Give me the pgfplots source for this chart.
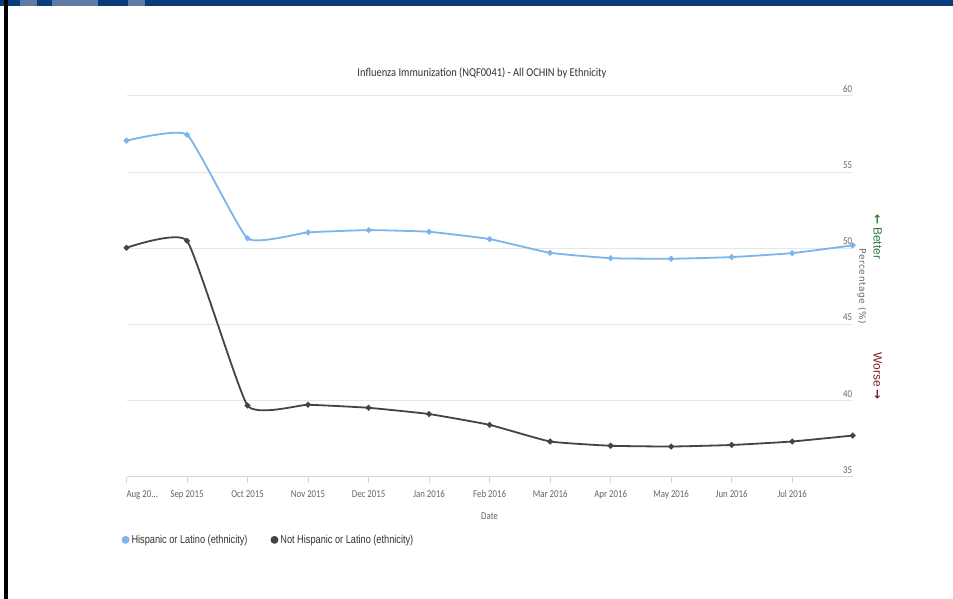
\documentclass[border=0pt]{standalone}
\usepackage{pgfplots}
\pgfplotsset{compat=1.18}
\usepackage{fontspec}
\setmainfont{Carlito}[FakeStretch=0.87]
\newfontfamily\tickfont{Carlito}[FakeStretch=0.84]
\newfontfamily\legfont{Liberation Sans}[FakeStretch=0.8]
\newfontfamily\labfont{DejaVu Sans}[LetterSpace=6]
\newfontfamily\arrfont{DejaVu Sans Bold}
\newfontfamily\sidefont{Liberation Sans}

\definecolor{hisp}{HTML}{7CB5EC}
\definecolor{nonhisp}{HTML}{434348}
\definecolor{gridc}{HTML}{E6E6E6}
\definecolor{axisc}{HTML}{CCD6EB}
\definecolor{tickc}{HTML}{666666}
\definecolor{titlec}{HTML}{333333}
\definecolor{barblue}{HTML}{0B3D7B}
\definecolor{logoc}{HTML}{5F7BA5}
\definecolor{better}{HTML}{2F7D3A}
\definecolor{worse}{HTML}{7B1E2A}

% monthly rates, points at month index 0..12
\pgfplotstableread{
x  hisp   nonhisp
0  57.07  50.04
1  57.46  50.50
2  50.66  39.69
3  51.05  39.74
4  51.20  39.54
5  51.09  39.13
6  50.61  38.42
7  49.71  37.33
8  49.36  37.05
9  49.32  37.00
10 49.43  37.10
11 49.69  37.33
12 50.20  37.72
}\ratedata

\begin{document}
\begin{tikzpicture}
% page frame
\useasboundingbox (0pt,0pt) rectangle (953pt,599pt);
\fill[white] (0pt,0pt) rectangle (953pt,599pt);
\fill[barblue] (0pt,593pt) rectangle (953pt,599pt);
\fill[logoc] (20pt,593pt) rectangle (37pt,599pt);
\fill[logoc] (52pt,593pt) rectangle (98pt,599pt);
\fill[logoc] (128pt,593pt) rectangle (145pt,599pt);
\fill[black] (3.5pt,0pt) rectangle (7.5pt,599pt);

\node[font=\fontsize{12}{14}\selectfont, text=titlec] at (482pt,526pt) {Influenza Immunization (NQF0041) - All OCHIN by Ethnicity};

\begin{axis}[
  at={(126.5pt,122pt)}, anchor=south west,
  scale only axis, width=726.2pt, height=381pt,
  xmin=0, xmax=12, ymin=35, ymax=60,
  clip=false,
  axis x line*=bottom, axis y line*=right,
  x axis line style={draw=axisc, line width=1pt, -},
  y axis line style={draw=none, -},
  xtick={0,...,11},
  xticklabels={{\makebox[0pt][l]{Aug 20...}},Sep 2015,Oct 2015,Nov 2015,Dec 2015,Jan 2016,Feb 2016,Mar 2016,Apr 2016,May 2016,Jun 2016,Jul 2016},
  ytick={35,40,...,60},
  ymajorgrids, major grid style={draw=gridc, line width=1pt},
  xtick style={draw=axisc, line width=1pt},
  ytick style={draw=none},
  tick align=outside,
  major tick length=6pt,
  /pgf/number format/assume math mode=true,
  xticklabel style={font=\tickfont\fontsize{10.5}{12}\selectfont, text=tickc, yshift=-3pt, text height=7.5pt, text depth=2pt},
  yticklabel style={font=\tickfont\fontsize{10.5}{12}\selectfont, text=tickc, anchor=south east, xshift=-3pt, yshift=0pt},
  xlabel={Date},
  xlabel style={font=\tickfont\fontsize{10.5}{12}\selectfont, text=tickc, at={(axis description cs:0.5,-0.102)}, anchor=center},
  ylabel={Percentage (\%)},
  ylabel style={font=\labfont\fontsize{9}{11}\selectfont, text=tickc, at={(axis description cs:1.0125,0.5)}, anchor=center, rotate=180},
  legend columns=2,
  legend style={at={(axis description cs:-0.011,-0.165)}, anchor=west, draw=none, fill=none,
    font=\legfont\fontsize{11.5}{13}\selectfont, text=titlec,
    /tikz/every even column/.append style={column sep=21pt}},
  legend cell align=left,
]
\addplot[hisp, line width=1.8pt, smooth, tension=0.25, mark=*, mark size=1.9pt,
  legend image code/.code={\fill (0.25em,0) circle (3pt);}]
  table[x=x, y=hisp] {\ratedata};
\addlegendentry{Hispanic or Latino (ethnicity)}
\addplot[nonhisp, line width=1.8pt, smooth, tension=0.25, mark=*, mark size=1.9pt,
  legend image code/.code={\fill (0.25em,0) circle (3pt);}]
  table[x=x, y=nonhisp] {\ratedata};
\addlegendentry{Not Hispanic or Latino (ethnicity)}

\node[rotate=-90, font=\sidefont\fontsize{12}{14}\selectfont, text=better, anchor=west]
  at (axis description cs:1.0345,0.697) {{\arrfont\char"2190}\,Better};
\node[rotate=-90, font=\sidefont\fontsize{12}{14}\selectfont, text=worse, anchor=east]
  at (axis description cs:1.0345,0.195) {Worse\,{\arrfont\char"2192}};
\end{axis}
\end{tikzpicture}
\end{document}
